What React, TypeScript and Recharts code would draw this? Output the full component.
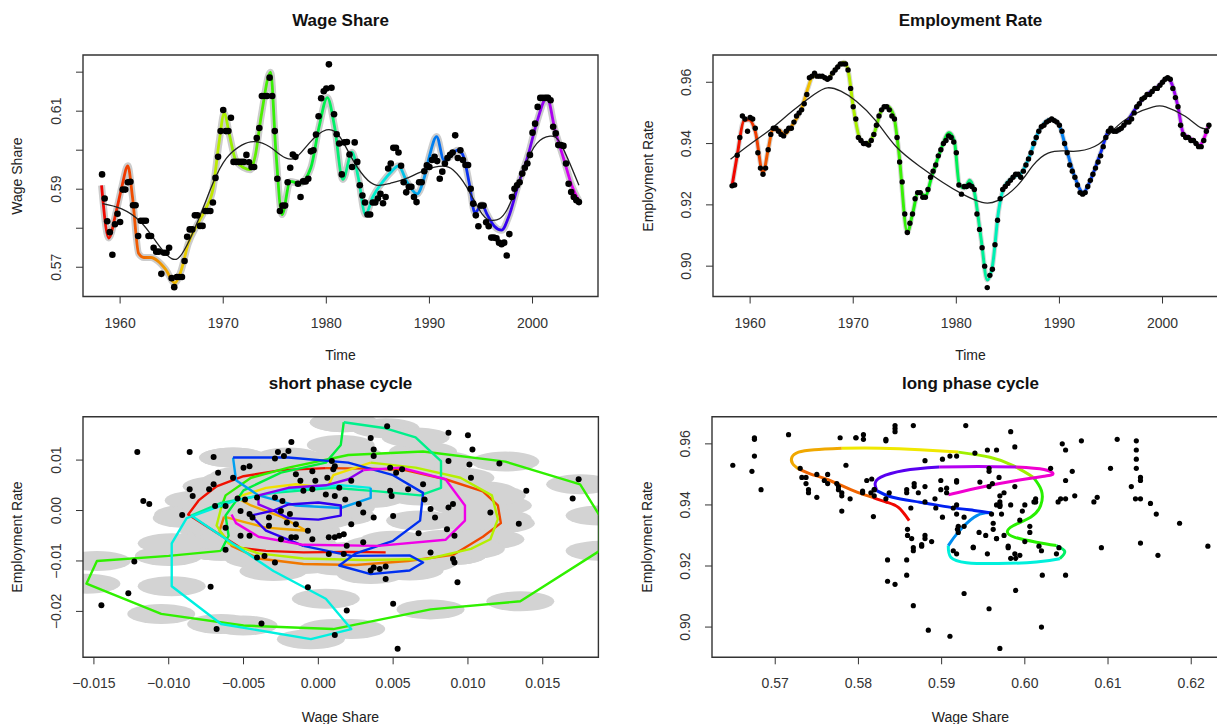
import React from 'react'
import { ComposedChart, Line, Scatter, XAxis, YAxis, ReferenceArea } from 'recharts'

const FONT = '"Liberation Sans", Arial, Helvetica, sans-serif'

// quarterly observations, 1958 Q2 .. 2004 Q3
const FIRST_QUARTER = 1958.25

const wageDots = [
  0.5938, 0.5876, 0.5818, // 1958
  0.5790, 0.5732, 0.5810, 0.5837, // 1959
  0.5816, 0.5899, 0.5899, 0.5918, // 1960
  0.5919, 0.5859, 0.5859, 0.5780, // 1961
  0.5819, 0.5819, 0.5819, 0.5780, // 1962
  0.5780, 0.5750, 0.5740, 0.5740, // 1963
  0.5683, 0.5737, 0.5737, 0.5750, // 1964
  0.5672, 0.5649, 0.5675, 0.5675, // 1965
  0.5675, 0.5716, 0.5778, 0.5797, // 1966
  0.5797, 0.5833, 0.5833, 0.5806, // 1967
  0.5806, 0.5844, 0.5844, 0.5844, // 1968
  0.5866, 0.5929, 0.5983, 0.6049, // 1969
  0.6103, 0.6049, 0.6049, 0.6083, // 1970
  0.5970, 0.5970, 0.5970, 0.5970, // 1971
  0.5970, 0.5988, 0.5969, 0.5957, // 1972
  0.5957, 0.6031, 0.6057, 0.6139, // 1973
  0.6139, 0.6139, 0.6186, 0.6139, // 1974
  0.6049, 0.5927, 0.5844, 0.5858, // 1975
  0.5858, 0.5918, 0.5955, 0.5989, // 1976
  0.5983, 0.5914, 0.5880, 0.5920, // 1977
  0.5920, 0.5927, 0.5997, 0.6000, // 1978
  0.6040, 0.6087, 0.6133, 0.6151, // 1979
  0.6158, 0.6220, 0.6160, 0.6092, // 1980
  0.6041, 0.6017, 0.5938, 0.6020, // 1981
  0.6021, 0.5989, 0.5957, 0.6020, // 1982
  0.5970, 0.5910, 0.5884, 0.5866, // 1983
  0.5835, 0.5835, 0.5866, 0.5866, // 1984
  0.5876, 0.5888, 0.5864, 0.5880, // 1985
  0.5953, 0.5966, 0.6006, 0.6006, // 1986
  0.5994, 0.5960, 0.5918, 0.5892, // 1987
  0.5906, 0.5906, 0.5880, 0.5867, // 1988
  0.5918, 0.5918, 0.5946, 0.5961, // 1989
  0.5957, 0.5975, 0.5983, 0.5972, // 1990
  0.5927, 0.5945, 0.5966, 0.5980, // 1991
  0.5988, 0.5994, 0.6038, 0.5980, // 1992
  0.6000, 0.5975, 0.5962, 0.5962, // 1993
  0.5901, 0.5863, 0.5833, 0.5805, // 1994
  0.5858, 0.5858, 0.5815, 0.5805, // 1995
  0.5776, 0.5776, 0.5774, 0.5763, // 1996
  0.5759, 0.5763, 0.5730, 0.5785, // 1997
  0.5880, 0.5901, 0.5910, 0.5918, // 1998
  0.5940, 0.5955, 0.5966, 0.5988, // 1999
  0.6045, 0.6068, 0.6111, 0.6134, // 2000
  0.6134, 0.6134, 0.6134, 0.6128, // 2001
  0.6060, 0.6043, 0.6013, 0.6013, // 2002
  0.6011, 0.5966, 0.5914, 0.5893, // 2003
  0.5880, 0.5872, 0.5867, // 2004
]

const employmentDots = [
  0.9262, 0.9265, 0.9362, // 1958
  0.9420, 0.9490, 0.9480, 0.9440, // 1959
  0.9485, 0.9480, 0.9450, 0.9370, // 1960
  0.9320, 0.9300, 0.9320, 0.9380, // 1961
  0.9430, 0.9450, 0.9450, 0.9440, // 1962
  0.9430, 0.9425, 0.9440, 0.9450, // 1963
  0.9450, 0.9470, 0.9490, 0.9500, // 1964
  0.9510, 0.9530, 0.9560, 0.9615, // 1965
  0.9620, 0.9630, 0.9620, 0.9620, // 1966
  0.9620, 0.9615, 0.9610, 0.9615, // 1967
  0.9630, 0.9640, 0.9650, 0.9660, // 1968
  0.9660, 0.9660, 0.9640, 0.9580, // 1969
  0.9520, 0.9480, 0.9420, 0.9410, // 1970
  0.9400, 0.9400, 0.9395, 0.9410, // 1971
  0.9430, 0.9460, 0.9490, 0.9510, // 1972
  0.9520, 0.9520, 0.9510, 0.9490, // 1973
  0.9480, 0.9420, 0.9340, 0.9275, // 1974
  0.9170, 0.9110, 0.9140, 0.9170, // 1975
  0.9220, 0.9240, 0.9240, 0.9225, // 1976
  0.9225, 0.9250, 0.9290, 0.9310, // 1977
  0.9330, 0.9360, 0.9380, 0.9400, // 1978
  0.9410, 0.9425, 0.9420, 0.9405, // 1979
  0.9370, 0.9265, 0.9235, 0.9260, // 1980
  0.9260, 0.9265, 0.9260, 0.9250, // 1981
  0.9170, 0.9120, 0.9060, 0.9000, // 1982
  0.8930, 0.8970, 0.8990, 0.9070, // 1983
  0.9150, 0.9220, 0.9250, 0.9260, // 1984
  0.9270, 0.9280, 0.9290, 0.9300, // 1985
  0.9300, 0.9290, 0.9310, 0.9330, // 1986
  0.9350, 0.9370, 0.9400, 0.9420, // 1987
  0.9440, 0.9455, 0.9460, 0.9470, // 1988
  0.9475, 0.9480, 0.9475, 0.9470, // 1989
  0.9460, 0.9440, 0.9400, 0.9370, // 1990
  0.9330, 0.9310, 0.9290, 0.9265, // 1991
  0.9240, 0.9235, 0.9240, 0.9260, // 1992
  0.9280, 0.9300, 0.9320, 0.9340, // 1993
  0.9360, 0.9390, 0.9420, 0.9440, // 1994
  0.9450, 0.9440, 0.9440, 0.9445, // 1995
  0.9450, 0.9460, 0.9470, 0.9470, // 1996
  0.9480, 0.9500, 0.9520, 0.9530, // 1997
  0.9545, 0.9550, 0.9560, 0.9560, // 1998
  0.9570, 0.9580, 0.9580, 0.9590, // 1999
  0.9600, 0.9610, 0.9615, 0.9610, // 2000
  0.9580, 0.9550, 0.9520, 0.9460, // 2001
  0.9430, 0.9420, 0.9420, 0.9410, // 2002
  0.9410, 0.9400, 0.9390, 0.9390, // 2003
  0.9410, 0.9440, 0.9460, // 2004
]

// smoothed fit [year, value]
const wageFit = [
  [1958.2, 0.591], [1958.9, 0.5775], [1959.6, 0.584], [1960.2, 0.591], [1960.75, 0.596],
  [1961.2, 0.588], [1961.8, 0.5735], [1962.3, 0.5725], [1963.0, 0.5725], [1963.7, 0.5715],
  [1964.4, 0.5695], [1965.3, 0.566], [1965.9, 0.569], [1966.6, 0.576], [1967.5, 0.581],
  [1968.3, 0.585], [1969.0, 0.59], [1969.6, 0.602], [1970.1, 0.6095], [1970.6, 0.604],
  [1971.2, 0.5975], [1972.0, 0.5955], [1972.6, 0.595], [1973.1, 0.5985], [1973.7, 0.609],
  [1974.6, 0.62], [1975.1, 0.6], [1975.7, 0.5835], [1976.5, 0.592], [1977.4, 0.5915],
  [1978.5, 0.5955], [1979.3, 0.606], [1980.1, 0.6135], [1980.8, 0.606], [1981.6, 0.5925],
  [1982.5, 0.5995], [1983.1, 0.593], [1983.8, 0.5835], [1984.5, 0.588], [1985.5, 0.592],
  [1986.3, 0.5945], [1987.0, 0.596], [1987.8, 0.592], [1988.8, 0.5888], [1989.5, 0.593],
  [1990.0, 0.5985], [1990.7, 0.6035], [1991.4, 0.5975], [1992.1, 0.5985], [1992.7, 0.6],
  [1993.2, 0.599], [1993.9, 0.591], [1994.4, 0.584], [1995.1, 0.586], [1995.6, 0.5835],
  [1996.3, 0.5805], [1997.0, 0.5795], [1997.7, 0.583], [1998.6, 0.591], [1999.6, 0.599],
  [2000.4, 0.607], [2001.4, 0.6135], [2002.2, 0.605], [2003.0, 0.598], [2003.8, 0.591],
  [2004.5, 0.587],
]

const wageTrend = [
  [1958.3, 0.5863], [1960.1, 0.585], [1962, 0.5816], [1963.5, 0.5765], [1965, 0.5722],
  [1966.2, 0.5743], [1967.7, 0.5829], [1969, 0.5915], [1970.3, 0.5979], [1971.8, 0.6013],
  [1973.1, 0.6022], [1974.5, 0.6009], [1975.6, 0.5987], [1976.9, 0.5979], [1978.3, 0.6017],
  [1980, 0.6052], [1981.3, 0.6035], [1982.4, 0.5983], [1983.7, 0.5932], [1984.9, 0.591],
  [1986.2, 0.5915], [1987.7, 0.5927], [1989.6, 0.5949], [1991.3, 0.5959], [1992.3, 0.5949],
  [1993.6, 0.5906], [1995.1, 0.5837], [1996.2, 0.582], [1997.5, 0.5846], [1999.1, 0.5949],
  [2000.4, 0.6017], [2001.7, 0.6036], [2002.8, 0.6013], [2004.5, 0.591],
]

const employmentFit = [
  [1958.25, 0.9262], [1958.75, 0.9362], [1959.4, 0.9475], [1959.9, 0.9478], [1960.5, 0.944],
  [1961.25, 0.9305], [1961.75, 0.938], [1962.2, 0.9445], [1962.8, 0.9445], [1963.3, 0.943],
  [1964, 0.9455], [1965, 0.9515], [1965.6, 0.958], [1966.1, 0.962], [1967, 0.9618],
  [1967.5, 0.9612], [1968.2, 0.964], [1969.1, 0.9665], [1969.5, 0.964], [1970, 0.952],
  [1970.6, 0.942], [1971.2, 0.9398], [1972, 0.943], [1972.7, 0.9505], [1973.3, 0.9522],
  [1973.9, 0.9495], [1974.4, 0.938], [1975.25, 0.911], [1975.75, 0.917], [1976.3, 0.924],
  [1977, 0.923], [1977.6, 0.929], [1978.4, 0.937], [1979.3, 0.9435], [1979.8, 0.941],
  [1980.3, 0.9265], [1980.8, 0.9255], [1981.3, 0.928], [1981.7, 0.925], [1982.4, 0.909],
  [1983.0, 0.8955], [1983.5, 0.9], [1984.1, 0.918], [1984.6, 0.9255], [1985.5, 0.929],
  [1986.2, 0.93], [1987, 0.935], [1988, 0.944], [1989.2, 0.948], [1989.9, 0.9465],
  [1990.6, 0.939], [1991.5, 0.929], [1992.3, 0.924], [1993, 0.928], [1994, 0.937],
  [1994.9, 0.9445], [1995.6, 0.944], [1996.5, 0.947], [1997.5, 0.952], [1998.5, 0.956],
  [1999.5, 0.9585], [2000.5, 0.9615], [2000.9, 0.9595], [2001.5, 0.952], [2002, 0.9435],
  [2002.8, 0.9415], [2003.6, 0.9395], [2004, 0.9415], [2004.5, 0.9465],
]

const employmentTrend = [
  [1958.1, 0.9349], [1960, 0.9398], [1962, 0.9447], [1964.1, 0.9506], [1966.2, 0.956],
  [1967.5, 0.9582], [1968.8, 0.9571], [1970.3, 0.9538], [1972.2, 0.9474], [1974.1, 0.9392],
  [1976.4, 0.9327], [1978.7, 0.9273], [1980.6, 0.9235], [1982.5, 0.9208], [1984, 0.9214],
  [1985.9, 0.9262], [1987.4, 0.9327], [1988.9, 0.9369], [1990.6, 0.9376], [1991.9, 0.9376],
  [1993.8, 0.9398], [1995.3, 0.9447], [1997.2, 0.9495], [1999.1, 0.952], [2000.3, 0.952],
  [2002.2, 0.9489], [2003.7, 0.9452], [2004.6, 0.945],
]

// short phase cycle: deviations [wage share, employment rate]
const shortCycleDots = [
  [-0.0121, 0.0116], [-0.0086, 0.0116], [-0.007, 0.0106], [-0.0067, 0.0075], [-0.0018, 0.0136],
  [-0.0027, 0.0116], [-0.002, 0.0118], [-0.0023, 0.0108], [-0.0029, 0.0103], [-0.0046, 0.0088],
  [-0.005, 0.0085], [-0.0057, 0.0065], [-0.007, 0.0052], [-0.0086, 0.0042], [-0.0084, 0.0029],
  [-0.0073, 0.0042], [-0.0117, 0.0019], [-0.0113, 0.0013], [-0.0091, -0.0009], [-0.0069, 0.0009],
  [-0.0062, 0.0009], [-0.0054, 0.0024], [-0.0049, 0.0022], [-0.0052, -0.0001], [-0.0046, -0.0007],
  [-0.0044, -0.0014], [-0.0041, 0.0026], [-0.0033, -0.0014], [-0.0029, 0.0026], [-0.0033, -0.003],
  [-0.0025, -0.0001], [-0.0019, -0.0007], [-0.0021, -0.0024], [-0.0015, -0.0027], [-0.0062, -0.0034],
  [-0.0052, -0.005], [-0.0046, -0.005], [-0.0062, -0.0078], [-0.0041, -0.0093], [-0.0036, -0.009],
  [-0.0029, -0.0103], [-0.0025, -0.0057], [-0.0018, -0.0053], [-0.0015, -0.0053], [-0.0007, -0.004],
  [-0.0004, -0.0057], [0.0007, -0.0053], [0.0011, -0.0053], [0.0014, -0.005], [0.0017, -0.0047],
  [0.0019, -0.007], [0.0007, -0.0086], [0.0017, -0.0086], [0.003, -0.0063], [0.0022, -0.0027],
  [0.003, -0.0004], [0.0037, -0.0014], [0.005, -0.0011], [0.0027, 0.0013], [0.0018, 0.0022],
  [0.0011, 0.0029], [0.0005, 0.0032], [-0.0004, 0.0042], [-0.0002, 0.0059], [-0.0012, 0.0059],
  [-0.0015, 0.0072], [-0.0004, 0.0078], [0.0009, 0.0098], [0.0011, 0.0088], [0.001, 0.0082],
  [0.0022, 0.0059], [0.0035, 0.0144], [0.0037, 0.0121], [0.0037, 0.0108], [0.0046, 0.0167],
  [0.0048, 0.0085], [0.0052, 0.0075], [0.0056, 0.0082], [0.0048, 0.0039], [0.0049, 0.0029],
  [0.006, 0.0042], [0.007, 0.0052], [0.0071, 0.0022], [0.0075, 0.0003], [0.0078, -0.0014],
  [0.0067, -0.0045], [0.0075, -0.0083], [0.0086, -0.0037], [0.0087, 0.0006], [0.009, 0.0013],
  [0.0087, 0.0098], [0.0087, 0.0154], [0.01, 0.0149], [0.0103, 0.0121], [0.0101, 0.0091],
  [0.0102, 0.0065], [0.0091, -0.005], [0.009, -0.0096], [0.0091, -0.0103], [0.0093, -0.0142],
  [0.0115, -0.0004], [0.0121, 0.0093], [0.0139, 0.0039], [0.0134, -0.0026], [0.0174, 0.0062],
  [0.017, 0.0024], [0.005, -0.0185], [0.0053, -0.0274], [0.0045, -0.0111], [0.0037, -0.0113],
  [0.0035, -0.0119], [0.0041, -0.0116], [0.0045, -0.0136], [0.0019, -0.0198], [0.0011, -0.0247],
  [-0.0038, -0.0224], [-0.0068, -0.0235], [-0.0072, -0.0151], [-0.0127, -0.0164], [-0.0123, -0.0101],
  [-0.0145, -0.0188], [-0.0007, -0.0152], [0.0006, 0.0065], [0.0014, 0.0045], [-0.001, 0.0039],
  [-0.0024, 0.0019],
]

// short phase cycle path, in time order, one list per colour stretch
const shortCyclePath = [
  [[0.0045, -0.0083], [0.002, -0.0082], [-0.001, -0.0083], [-0.0035, -0.008], [-0.0052, -0.0074], [-0.007, -0.004], [-0.0087, -0.0008], [-0.008, 0.002], [-0.0068, 0.0048], [-0.005, 0.0068], [-0.0025, 0.008], [0.0005, 0.0084]],
  [[0.0005, 0.0084], [0.0035, 0.0083], [0.0058, 0.008], [0.0085, 0.0062], [0.011, 0.0038], [0.012, 0.001], [0.0122, -0.0025], [0.011, -0.0052], [0.009, -0.0088]],
  [[0.009, -0.0088], [0.006, -0.01], [0.0025, -0.0108], [-0.001, -0.0106], [-0.004, -0.0095], [-0.0058, -0.007], [-0.0066, -0.004], [-0.0063, -0.0012]],
  [[-0.0063, -0.0012], [-0.0048, -0.0024], [-0.0035, -0.0034], [-0.0021, -0.0037], [-0.0008, -0.004], [-0.0025, -0.0012], [-0.0045, 0.001], [-0.0055, 0.0026]],
  [[-0.0055, 0.0026], [-0.0035, 0.0045], [-0.0015, 0.0052], [0.0006, 0.0045], [0.001, 0.007], [0.0035, 0.0095]],
  [[0.0035, 0.0095], [0.0065, 0.0085], [0.0095, 0.0065], [0.0116, 0.003], [0.012, -0.0017], [0.0115, -0.0057], [0.0102, -0.0076], [0.0073, -0.0096], [0.003, -0.0098], [-0.001, -0.0095], [-0.004, -0.0085], [-0.006, -0.0065], [-0.0068, -0.003], [-0.0065, 0.0005]],
  [[-0.0065, 0.0005], [-0.0062, 0.003], [-0.0045, 0.0065], [-0.002, 0.0085], [0.002, 0.011], [0.007, 0.0117], [0.0125, 0.0097], [0.0175, 0.0052], [0.0188, -0.001], [0.0188, -0.008], [0.0135, -0.018], [0.0075, -0.0196], [0.001, -0.0235], [-0.005, -0.0228], [-0.0105, -0.0205], [-0.0155, -0.0145], [-0.0148, -0.01], [-0.01, -0.009], [-0.0065, -0.008]],
  [[-0.0065, -0.008], [-0.006, -0.005], [-0.0062, -0.001], [-0.005, 0.004], [-0.0025, 0.0075], [0.0005, 0.0095], [0.0015, 0.013], [0.0017, 0.0175]],
  [[0.0017, 0.0175], [0.0045, 0.0163], [0.0065, 0.0145], [0.0082, 0.0098], [0.0082, 0.0045], [0.0068, 0.003], [0.004, 0.0038], [0.001, 0.0045], [-0.003, 0.0035], [-0.0065, 0.0015], [-0.0085, -0.001]],
  [[-0.0085, -0.001], [-0.006, -0.006], [-0.003, -0.012], [0.0005, -0.0175], [0.0022, -0.0235], [-0.0005, -0.0255], [-0.0065, -0.0225], [-0.0098, -0.015], [-0.0098, -0.0065], [-0.0088, -0.0015], [-0.0055, 0.002], [-0.002, 0.0042], [0.0015, 0.005], [0.0035, 0.0045]],
  [[0.0035, 0.0045], [0.0035, 0.0025], [0.0015, 0.0005], [-0.0015, 0.001], [-0.004, 0.003], [-0.0055, 0.006], [-0.0057, 0.0105]],
  [[-0.0057, 0.0105], [-0.002, 0.0105], [0.002, 0.0095], [0.005, 0.007], [0.007, 0.0035], [0.0068, -0.002], [0.005, -0.006], [0.0025, -0.0085], [0.0014, -0.0109], [0.0035, -0.0126], [0.0061, -0.0119], [0.007, -0.0103], [0.0061, -0.0089], [0.0022, -0.009], [-0.001, -0.007]],
  [[-0.001, -0.007], [-0.0035, -0.004], [-0.0045, -0.001], [-0.003, 0], [-0.002, 0.0012], [0, 0.0016], [0.0015, 0.001], [0.0015, -0.001], [0, -0.0018], [-0.002, -0.0015], [-0.003, 0]],
  [[-0.003, 0], [-0.004, 0.0012], [-0.004, 0.003], [-0.002, 0.0045], [0.0005, 0.005], [0.002, 0.0062], [0.003, 0.008]],
  [[0.003, 0.008], [0.0055, 0.0085], [0.0085, 0.0062], [0.0098, 0.001], [0.0098, -0.002], [0.0085, -0.0058], [0.004, -0.007], [-0.001, -0.0068], [-0.004, -0.0052], [-0.0055, -0.0025], [-0.0058, -0.0008]],
]

// long phase cycle path [wage share, employment rate]
const longCyclePath = [
  [[0.5861, 0.9349], [0.5848, 0.9392], [0.5834, 0.9409], [0.5817, 0.9425]],
  [[0.5817, 0.9425], [0.5799, 0.9441], [0.578, 0.9463], [0.5761, 0.9485], [0.5742, 0.9502], [0.5728, 0.9518]],
  [[0.5728, 0.9518], [0.5721, 0.9535], [0.572, 0.9556], [0.5728, 0.9573], [0.5747, 0.9581], [0.578, 0.9586]],
  [[0.578, 0.9586], [0.5827, 0.9586], [0.5874, 0.9581], [0.592, 0.9573]],
  [[0.592, 0.9573], [0.5958, 0.9556], [0.5986, 0.9529], [0.601, 0.9491]],
  [[0.601, 0.9491], [0.602, 0.9447], [0.6019, 0.9398], [0.6007, 0.936], [0.5986, 0.9332], [0.5979, 0.9311], [0.5988, 0.9294], [0.6014, 0.9278], [0.6038, 0.9267]],
  [[0.6038, 0.9267], [0.6048, 0.9248], [0.6042, 0.9224]],
  [[0.6042, 0.9224], [0.6014, 0.9213], [0.5968, 0.9208], [0.593, 0.9211], [0.5911, 0.9229], [0.5908, 0.9267]],
  [[0.5908, 0.9267], [0.592, 0.9311], [0.5939, 0.936], [0.5953, 0.9374], [0.596, 0.9374]],
  [[0.596, 0.9374], [0.5939, 0.9382], [0.5911, 0.9392], [0.5874, 0.9409], [0.5841, 0.9425], [0.5822, 0.9447]],
  [[0.5822, 0.9447], [0.582, 0.9469], [0.5827, 0.9491], [0.5855, 0.9513], [0.5897, 0.9524]],
  [[0.5897, 0.9524], [0.5944, 0.9526], [0.599, 0.9524]],
  [[0.599, 0.9524], [0.6023, 0.9516], [0.6034, 0.9502], [0.6023, 0.9494], [0.599, 0.948], [0.5953, 0.9461], [0.592, 0.9441], [0.5908, 0.9433]],
]

const yearTicks = [1960, 1970, 1980, 1990, 2000]
const wageTicks = [0.57, 0.58, 0.59, 0.6, 0.61, 0.62]
const wageLabelled = [0.57, 0.59, 0.61]
const rateTicks = [0.9, 0.92, 0.94, 0.96]
const devXTicks = [-0.015, -0.01, -0.005, 0, 0.005, 0.01, 0.015]
const devYTicks = [-0.02, -0.01, 0, 0.01]
const shareTicks = [0.57, 0.58, 0.59, 0.6, 0.61, 0.62]

// colours
const shortHues = [4, 18, 30, 42, 56, 75, 108, 135, 155, 176, 200, 228, 252, 275, 302]
const longHues = [2, 25, 42, 58, 80, 110, 145, 175, 205, 232, 262, 285, 308]
const rainbowHues = [0, 25, 50, 75, 100, 125, 150, 175, 200, 225, 250, 275, 300]
const hue = (h: number) => `hsl(${h}, 100%, 47%)`

const pts = (list: number[][]) => list.map(([x, y]) => ({ x, y }))
const quarterly = (vals: number[]) => vals.map((y, i) => ({ x: FIRST_QUARTER + i * 0.25, y }))
const minus = (s: string) => s.replace('-', '\u2212')

const XLabel = (fmt: (v: number) => string) => (p: any) => (
  <text x={p.x} y={p.y + 24} textAnchor="middle" fontSize={14} fill="#333" fontFamily={FONT}>
    {minus(fmt(p.payload.value))}
  </text>
)

const YLabel = (fmt: (v: number) => string, show?: number[]) => (p: any) => {
  const v = p.payload.value
  if (show && !show.some((s) => Math.abs(s - v) < 1e-9)) return <g />
  const bx = p.x - 15
  return (
    <text x={bx} y={p.y} transform={`rotate(-90 ${bx} ${p.y})`} textAnchor="middle" fontSize={14} fill="#333" fontFamily={FONT}>
      {minus(fmt(v))}
    </text>
  )
}

const dot = (r: number) => (p: any) => <circle cx={p.cx} cy={p.cy} r={r} fill="#000" />
const ellipse = (p: any) => <ellipse cx={p.cx} cy={p.cy} rx={34} ry={10} fill="#d3d3d3" />

function axes(xDomain: number[], yDomain: number[], xTicks: number[], yTicks: number[], xFmt: (v: number) => string, yFmt: (v: number) => string, show?: number[]) {
  return [
    <XAxis key="x" type="number" dataKey="x" domain={xDomain} allowDataOverflow ticks={xTicks} interval={0}
      tickSize={7} tickMargin={0} axisLine={false} tickLine={{ stroke: '#333' }} height={30} tick={XLabel(xFmt)} />,
    <YAxis key="y" type="number" dataKey="y" domain={yDomain} allowDataOverflow ticks={yTicks} interval={0}
      tickSize={7} tickMargin={0} axisLine={false} tickLine={{ stroke: '#333' }} width={60} tick={YLabel(yFmt, show)} />,
    <ReferenceArea key="box" x1={xDomain[0]} x2={xDomain[1]} y1={yDomain[0]} y2={yDomain[1]}
      fill="none" stroke="#333" strokeWidth={1.4} ifOverflow="visible" />,
  ]
}

const YEAR_DOMAIN = [1956.4, 2006.35]
const WAGE_DOMAIN = [0.5625, 0.6244]
const RATE_DOMAIN = [0.8901, 0.9689]
const DEV_X_DOMAIN = [-0.01573, 0.01872]
const DEV_Y_DOMAIN = [-0.0291, 0.0186]
const SHARE_DOMAIN = [0.5624, 0.6243]

function Gradient({ id }: { id: string }) {
  return (
    <defs>
      <linearGradient id={id} x1="0" y1="0" x2="1" y2="0">
        {rainbowHues.map((h, i) => (
          <stop key={i} offset={i / (rainbowHues.length - 1)} stopColor={hue(h)} />
        ))}
      </linearGradient>
    </defs>
  )
}

export default function App() {
  const fmt2 = (v: number) => v.toFixed(2)
  const fmt3 = (v: number) => v.toFixed(3)
  const fmtY = (v: number) => String(v)
  const ellipseData = pts(shortCyclePath.flat())

  return (
    <div style={{ position: 'absolute', left: 0, top: 0, width: 1217, height: 724, overflow: 'hidden', background: '#fff', fontFamily: FONT }}>
      {/* Wage Share over time */}
      <div style={{ position: 'absolute', left: 0, top: 0 }}>
        <ComposedChart width={610} height={370} margin={{ top: 55, right: 12, bottom: 43.5, left: 23 }}>
          <Gradient id="rb1" />
          {axes(YEAR_DOMAIN, WAGE_DOMAIN, yearTicks, wageTicks, fmtY, fmt2, wageLabelled)}
          <Line data={pts(wageFit)} dataKey="y" type="monotone" stroke="#cccccc" strokeWidth={7} dot={false} activeDot={false} isAnimationActive={false} />
          <Line data={pts(wageFit)} dataKey="y" type="monotone" stroke="url(#rb1)" strokeWidth={2.8} dot={false} activeDot={false} isAnimationActive={false} />
          <Line data={pts(wageTrend)} dataKey="y" type="natural" stroke="#222" strokeWidth={1.3} dot={false} activeDot={false} isAnimationActive={false} />
          <Scatter data={quarterly(wageDots)} dataKey="y" shape={dot(3.3)} isAnimationActive={false} />
        </ComposedChart>
      </div>

      {/* Employment Rate over time */}
      <div style={{ position: 'absolute', left: 620, top: 0 }}>
        <ComposedChart width={630} height={370} margin={{ top: 55, right: 22, bottom: 43.5, left: 33 }}>
          <Gradient id="rb2" />
          {axes(YEAR_DOMAIN, RATE_DOMAIN, yearTicks, rateTicks, fmtY, fmt2)}
          <Line data={pts(employmentFit)} dataKey="y" type="monotone" stroke="#d6d6d6" strokeWidth={5} dot={false} activeDot={false} isAnimationActive={false} />
          <Line data={pts(employmentFit)} dataKey="y" type="monotone" stroke="url(#rb2)" strokeWidth={3} dot={false} activeDot={false} isAnimationActive={false} />
          <Line data={pts(employmentTrend)} dataKey="y" type="natural" stroke="#222" strokeWidth={1.3} dot={false} activeDot={false} isAnimationActive={false} />
          <Scatter data={quarterly(employmentDots)} dataKey="y" shape={dot(2.7)} isAnimationActive={false} />
        </ComposedChart>
      </div>

      {/* short phase cycle */}
      <div style={{ position: 'absolute', left: 0, top: 370 }}>
        <ComposedChart width={610} height={354} margin={{ top: 46.7, right: 11.6, bottom: 36.7, left: 23 }}>
          {axes(DEV_X_DOMAIN, DEV_Y_DOMAIN, devXTicks, devYTicks, fmt3, fmt2)}
          <Scatter data={ellipseData} dataKey="y" shape={ellipse} isAnimationActive={false} zIndex={50} />
          {shortCyclePath.map((seg, i) => (
            <Line key={i} data={pts(seg)} dataKey="y" type="linear" stroke={hue(shortHues[i])} strokeWidth={2.4}
              strokeLinejoin="round" dot={false} activeDot={false} isAnimationActive={false} />
          ))}
          <Scatter data={pts(shortCycleDots)} dataKey="y" shape={dot(3)} isAnimationActive={false} />
        </ComposedChart>
      </div>

      {/* long phase cycle */}
      <div style={{ position: 'absolute', left: 620, top: 370 }}>
        <ComposedChart width={630} height={354} margin={{ top: 46.7, right: 23, bottom: 36.7, left: 32 }}>
          {axes(SHARE_DOMAIN, RATE_DOMAIN, shareTicks, rateTicks, fmt2, fmt2)}
          <Scatter data={wageDots.map((w, i) => ({ x: w, y: employmentDots[i] }))} dataKey="y" shape={dot(2.6)} isAnimationActive={false} />
          {longCyclePath.map((seg, i) => (
            <Line key={i} data={pts(seg)} dataKey="y" type="natural" stroke={hue(longHues[i])} strokeWidth={3}
              dot={false} activeDot={false} isAnimationActive={false} />
          ))}
        </ComposedChart>
      </div>

      <svg width={1217} height={724} style={{ position: 'absolute', left: 0, top: 0, pointerEvents: 'none' }} fontFamily={FONT}>
        <g fontWeight="bold" fontSize={17} fill="#111" textAnchor="middle">
          <text x={340.5} y={26}>Wage Share</text>
          <text x={970.5} y={26}>Employment Rate</text>
          <text x={340.5} y={389}>short phase cycle</text>
          <text x={970.5} y={389}>long phase cycle</text>
        </g>
        <g fontSize={14} fill="#222" textAnchor="middle">
          <text x={340.5} y={360}>Time</text>
          <text x={970.5} y={360}>Time</text>
          <text x={340.5} y={722}>Wage Share</text>
          <text x={970.5} y={722}>Wage Share</text>
          <text x={22} y={176} transform="rotate(-90 22 176)">Wage Share</text>
          <text x={653} y={176} transform="rotate(-90 653 176)">Employment Rate</text>
          <text x={22} y={537} transform="rotate(-90 22 537)">Employment Rate</text>
          <text x={652} y={537} transform="rotate(-90 652 537)">Employment Rate</text>
        </g>
      </svg>
    </div>
  )
}
